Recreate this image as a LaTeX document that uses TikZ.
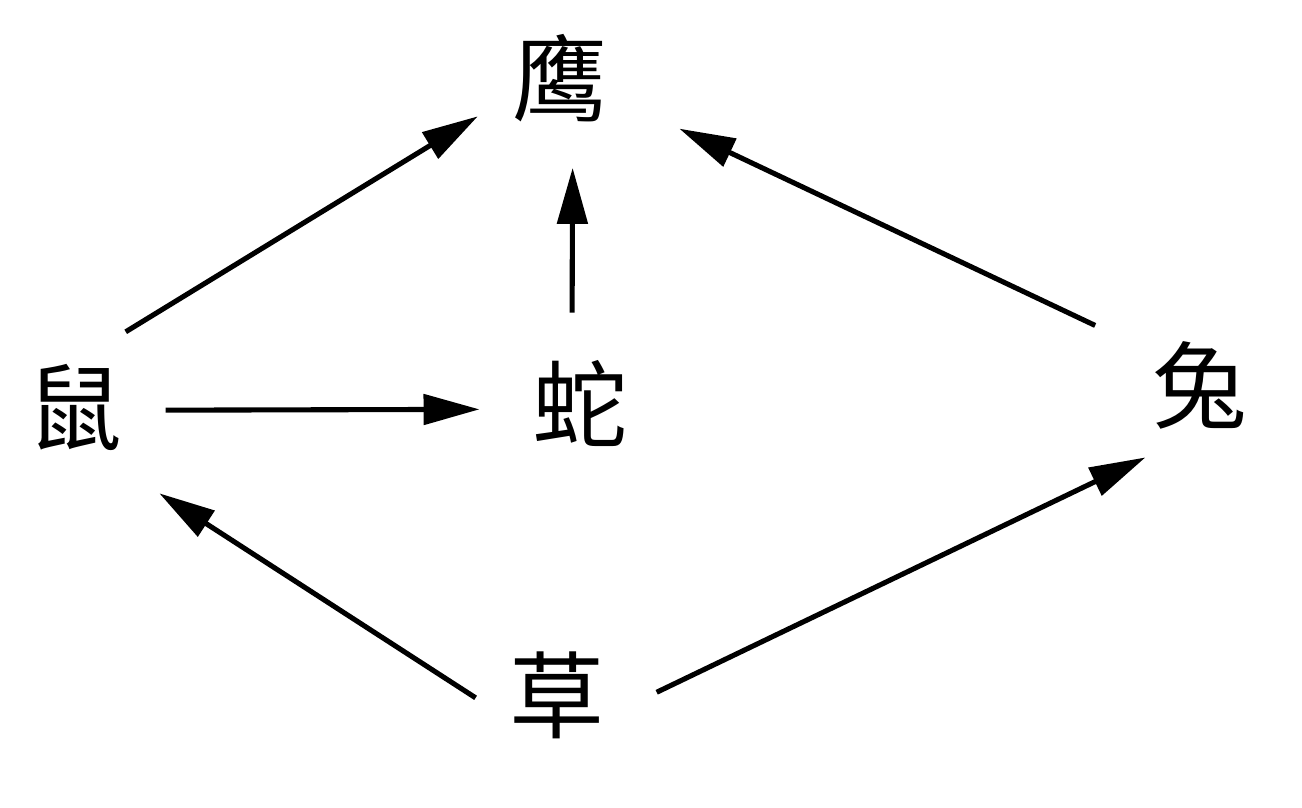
\documentclass[tikz,border=0pt]{standalone}
\usepackage{fontspec}
\newfontfamily\cjk{Noto Sans CJK SC}
\usetikzlibrary{arrows.meta}
\tikzset{
    animal/.style={circle,minimum size=1.8cm,inner sep=0pt,font=\cjk\fontsize{27}{30}\selectfont},
    eat/.style={line width=1.45pt,-{Triangle[length=0.56cm,width=0.3cm]}}
}
\begin{document}
\begin{tikzpicture}
    \path[use as bounding box] (0,0) rectangle (13.02,8.07);
    \node[animal] (ying) at (5.60,7.29) {鹰};
    \node[animal] (shu) at (0.75,4.00) {鼠};
    \node[animal] (she) at (5.80,4.04) {蛇};
    \node[animal] (tu) at (12.00,4.22) {兔};
    \node[animal] (cao) at (5.57,1.12) {草};
    \draw[eat] (shu.56) -- (ying.205);
    \draw[eat] (she.95) -- (ying.278);
    \draw[eat,shorten <=0.3cm,shorten >=0.39cm] (tu.149) -- (ying.338);
    \draw[eat,shorten >=0.1cm] (shu.-2) -- (she.184);
    \draw[eat,shorten <=-0.11cm,shorten >=0.31cm] (cao.178) -- (shu.310);
    \draw[eat,shorten <=0.1cm] (cao.-1) -- (tu.233);
\end{tikzpicture}
\end{document}
